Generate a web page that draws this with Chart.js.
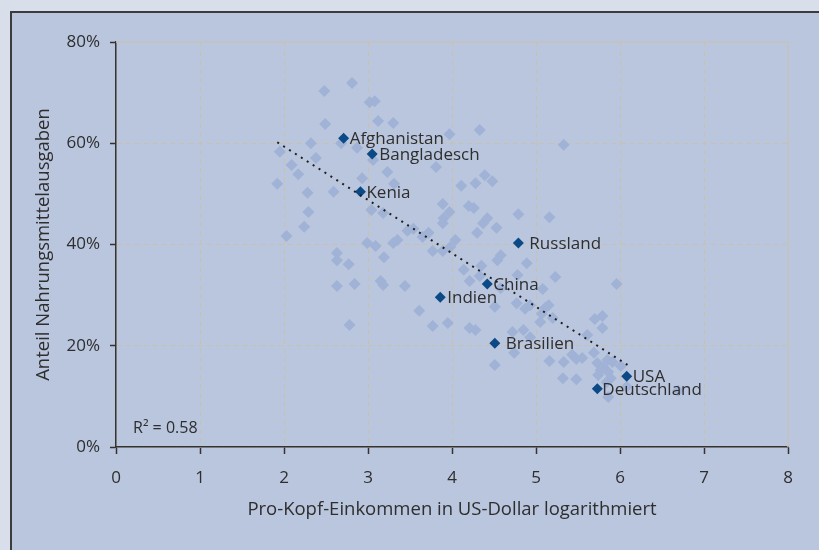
<!DOCTYPE html>
<html>
<head>
<meta charset="utf-8">
<script src="https://cdn.jsdelivr.net/npm/chart.js@4.4.0/dist/chart.umd.min.js"></script>
<style>
  html, body { margin: 0; padding: 0; background: #d8deea; }
  #wrap { position: absolute; left: 0; top: 0; width: 819px; height: 550px; }
</style>
</head>
<body>
<div id="wrap"><canvas id="scatter" width="819" height="550"></canvas></div>
<script>
// DATA ----------------------------------------
// labelled countries
let countries = ['Afghanistan', 'Bangladesch', 'Kenia', 'Russland', 'China', 'Indien', 'Brasilien', 'USA', 'Deutschland'];
let countryX = [2.71, 3.05, 2.91, 4.79, 4.42, 3.86, 4.51, 6.08, 5.73];
let countryY = [61.0, 57.9, 50.4, 40.3, 32.2, 29.6, 20.5, 14.0, 11.5];

// all other countries (light diamonds)
let otherX = [2.48, 2.81, 3.02, 3.08, 2.49, 3.12, 3.30, 3.97, 4.33, 5.33,
  2.32, 2.68, 2.87, 1.95, 2.38, 3.06, 2.09, 2.17, 2.93, 3.23,
  3.81, 1.92, 2.28, 2.59, 3.31, 4.11, 4.28, 4.39, 4.48, 3.89,
  4.20, 4.26, 2.29, 3.04, 3.18, 3.97, 3.90, 3.89, 2.24, 2.03,
  3.47, 3.54, 3.72, 3.65, 3.35, 3.30, 2.99, 3.09, 3.77, 3.89,
  3.98, 4.04, 2.63, 2.63, 2.77, 3.19, 4.79, 5.16, 4.42, 4.37,
  4.53, 4.30, 4.58, 4.54, 4.89, 4.35, 4.14, 4.21, 4.78, 5.23,
  4.33, 4.58, 5.08, 5.96, 2.63, 2.84, 3.15, 3.18, 3.44, 3.61,
  2.78, 3.77, 3.95, 4.77, 4.51, 4.87, 4.93, 5.15, 5.11, 5.07,
  5.79, 5.70, 5.79, 5.05, 5.20, 4.21, 4.28, 4.72, 4.85, 4.93,
  5.61, 4.51, 4.74, 5.16, 5.33, 5.43, 5.48, 5.55, 5.69, 5.32,
  5.48, 5.73, 5.80, 5.86, 5.77, 5.89, 5.85, 5.91, 5.74, 6.01,
  5.84, 5.86, 6.08, 6.69];
let otherY = [70.3, 71.9, 68.1, 68.3, 63.8, 64.4, 64.0, 61.8, 62.6, 59.7,
  60.0, 60.0, 59.1, 58.3, 57.1, 56.7, 55.7, 53.9, 53.1, 54.3,
  55.3, 52.0, 50.2, 50.4, 52.0, 51.6, 52.1, 53.7, 52.5, 48.0,
  47.6, 47.2, 46.4, 46.8, 46.2, 46.4, 45.2, 44.2, 43.5, 41.7,
  42.7, 43.1, 42.3, 41.5, 40.9, 40.3, 40.3, 39.7, 38.7, 38.7,
  39.5, 40.9, 38.3, 36.9, 36.1, 37.5, 46.0, 45.4, 45.2, 44.2,
  43.3, 42.3, 37.9, 36.9, 36.3, 35.8, 35.0, 32.8, 34.0, 33.6,
  33.8, 31.4, 31.2, 32.2, 31.8, 32.2, 32.8, 32.0, 31.8, 26.9,
  24.1, 23.9, 24.5, 28.4, 27.7, 27.3, 28.0, 28.0, 27.5, 26.3,
  25.9, 25.3, 23.5, 24.7, 25.5, 23.5, 23.1, 22.7, 23.1, 21.7,
  22.1, 16.2, 18.6, 17.0, 16.8, 18.2, 17.4, 17.6, 18.6, 13.6,
  13.4, 16.6, 15.8, 14.8, 15.2, 13.6, 17.2, 16.8, 14.2, 16.0,
  12.8, 9.9, 11.9, 11.1];

// linear trend (end points)
let trendX = [1.92, 6.12];
let trendY = [60.2, 15.9];
let rSquared = 'R\u00B2 = 0.58';

let xTitle = 'Pro-Kopf-Einkommen in US-Dollar logarithmiert';
let yTitle = 'Anteil Nahrungsmittelausgaben';
//--------------------------------------------

function toPoints(xs, ys) {
  let pts = [];
  for (let i = 0; i < xs.length; i++) pts.push({x: xs[i], y: ys[i]});
  return pts;
}

let font = '"Open Sans", "DejaVu Sans", sans-serif';
let txtColor = '#2e2e2e';
// gap between a country marker and its name (px)
let labelGap = [6, 7, 6, 11, 6, 7, 11, 6, 5];

// background panel + plot border
let panelPlugin = {
  id: 'panel',
  beforeDraw(chart) {
    let c = chart.ctx;
    c.save();
    c.fillStyle = '#d8deea';
    c.fillRect(0, 0, chart.width, chart.height);
    c.fillStyle = '#b9c6de';
    c.fillRect(10, 11, chart.width - 10, chart.height - 11);
    c.strokeStyle = '#3c3c3c';
    c.lineWidth = 2;
    c.beginPath();
    c.moveTo(11, chart.height);
    c.lineTo(11, 12);
    c.lineTo(chart.width, 12);
    c.stroke();
    c.restore();
  },
  beforeDatasetsDraw(chart) {
    let a = chart.chartArea, c = chart.ctx;
    c.save();
    c.strokeStyle = '#c3c3c0';
    c.lineWidth = 1.5;
    c.beginPath();
    c.moveTo(a.left, a.top);
    c.lineTo(a.right, a.top);
    c.lineTo(a.right, a.bottom);
    c.stroke();
    c.restore();
  }
};

// country names, drawn right after the dark markers so the trend dots sit on top
let namePlugin = {
  id: 'names',
  afterDatasetDraw(chart, args) {
    if (args.index !== 1) return;
    let c = chart.ctx;
    let xs = chart.scales.x, ys = chart.scales.y;
    c.save();
    c.font = '17px ' + font;
    c.fillStyle = txtColor;
    c.textBaseline = 'middle';
    c.textAlign = 'left';
    for (let i = 0; i < countries.length; i++) {
      c.fillText(countries[i], xs.getPixelForValue(countryX[i]) + labelGap[i], ys.getPixelForValue(countryY[i]) + 1);
    }
    c.restore();
  },
  afterDraw(chart) {
    let c = chart.ctx, a = chart.chartArea;
    c.save();
    c.font = '16px ' + font;
    c.fillStyle = txtColor;
    c.textBaseline = 'middle';
    c.fillText(rSquared, a.left + 17, a.bottom - 19);
    c.restore();
  }
};

let chart = new Chart(document.getElementById('scatter'), {
  type: 'scatter',
  data: {
    datasets: [{
      label: 'Trend',
      type: 'line',
      data: toPoints(trendX, trendY),
      borderColor: '#1e1e1e',
      borderWidth: 2,
      borderDash: [2, 5],
      pointRadius: 0,
      fill: false,
      order: 1
    }, {
      label: 'Länder',
      data: toPoints(countryX, countryY),
      pointStyle: 'rectRot',
      pointRadius: 5.5,
      backgroundColor: '#0b4a86',
      borderColor: '#0b4a86',
      borderWidth: 0,
      order: 2
    }, {
      label: 'Alle',
      data: toPoints(otherX, otherY),
      pointStyle: 'rectRot',
      pointRadius: 6,
      backgroundColor: '#a0b2d5',
      borderColor: '#a0b2d5',
      borderWidth: 0,
      order: 3
    }]
  },
  options: {
    responsive: false,
    animation: false,
    events: [],
    layout: { padding: { left: 20, top: 42, right: 31, bottom: 20 } },
    plugins: { legend: { display: false }, tooltip: { enabled: false } },
    scales: {
      x: {
        type: 'linear',
        min: 0,
        max: 8,
        afterFit: function (s) { s.height = 83; },
        ticks: { stepSize: 1, color: txtColor, padding: 14, font: { family: font, size: 17 } },
        grid: { color: '#c8c1ac', lineWidth: 1, tickLength: 7, tickColor: '#333', tickWidth: 1.5 },
        border: { color: '#333', width: 1.5, dash: [5, 4] },
        title: { display: true, text: xTitle, color: txtColor, padding: { top: 0, bottom: 9 }, font: { family: font, size: 18.5 } }
      },
      y: {
        min: 0,
        max: 80,
        afterFit: function (s) { s.width = 96; },
        ticks: { stepSize: 20, color: txtColor, padding: 10, font: { family: font, size: 17 },
          callback: function (v) { return v + '%'; } },
        grid: { color: '#c8c1ac', lineWidth: 1, tickLength: 6, tickColor: '#333', tickWidth: 1.5 },
        border: { color: '#333', width: 1.5, dash: [5, 4] },
        title: { display: true, text: yTitle, color: txtColor, padding: { top: 13, bottom: 0 }, font: { family: font, size: 18.5 } }
      }
    }
  },
  plugins: [panelPlugin, namePlugin]
});
</script>
</body>
</html>
